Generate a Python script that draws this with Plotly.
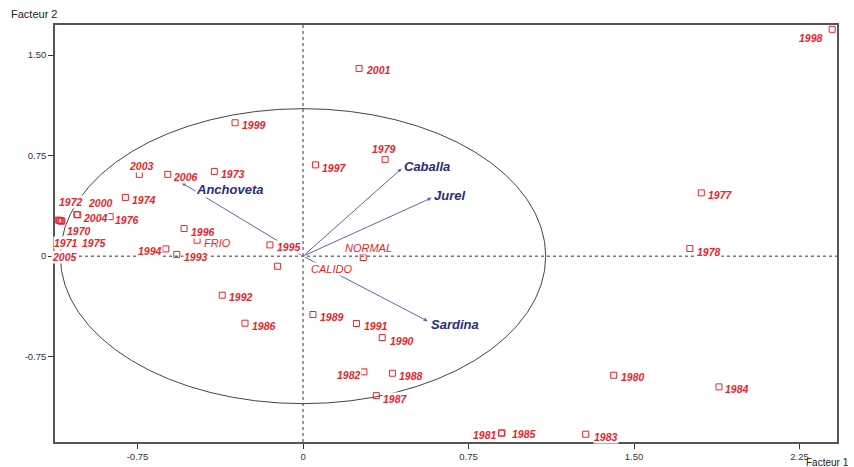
import plotly.graph_objects as go

# ---------------- data ----------------
years = ["1998", "2001", "1999", "1979", "1997", "2003", "2006", "1973", "1974",
         "1972", "1970", "1971", "1975", "2005", "2000", "2004", "1976", "1996",
         "FRIO", "1994", "1993", "1995", "CALIDO", "NORMAL", "1992", "1986",
         "1989", "1991", "1990", "1982", "1988", "1987", "1981", "1985", "1983",
         "1980", "1984", "1977", "1978"]
f1 = [2.398, 0.254, -0.308, 0.372, 0.057, -0.742, -0.613, -0.402, -0.805,
      -1.109, -1.093, -1.103, -1.096, -1.101, -1.025, -1.021, -0.874, -0.539,
      -0.480, -0.622, -0.572, -0.150, -0.115, 0.273, -0.366, -0.263,
      0.045, 0.242, 0.359, 0.276, 0.405, 0.332, 0.899, 0.901, 1.281,
      1.408, 1.885, 1.805, 1.753]
f2 = [1.692, 1.400, 0.995, 0.722, 0.681, 0.610, 0.610, 0.632, 0.438,
      0.269, 0.263, 0.265, 0.261, 0.266, 0.311, 0.308, 0.295, 0.206,
      0.119, 0.054, 0.013, 0.084, -0.075, -0.010, -0.291, -0.500,
      -0.435, -0.502, -0.607, -0.863, -0.873, -1.040, -1.320, -1.318, -1.328,
      -0.888, -0.975, 0.472, 0.057]

species = ["Caballa", "Jurel", "Sardina", "Anchoveta"]
sp_f1 = [0.447, 0.583, 0.565, -0.550]
sp_f2 = [0.654, 0.435, -0.485, 0.547]

circle_radius = 1.10

x_ticks = [-0.75, 0, 0.75, 1.50, 2.25]
x_ticktext = ["-0.75", "0", "0.75", "1.50", "2.25"]
y_ticks = [-0.75, 0, 0.75, 1.50]
y_ticktext = ["-0.75", "0", "0.75", "1.50"]

# ---------------- label placement (pixel offsets: dx right, dy down) ----------------
label_off = {
    "1998": (-21, 9), "2001": (19, 2), "1999": (19, 2), "1979": (-1, -10),
    "1997": (19, 3), "2003": (2, -8), "2006": (18, 3), "1973": (19, 3),
    "1974": (19, 3), "1972": (13, -18), "1970": (17, 10), "1971": (6, 22),
    "1975": (33, 22), "2005": (4, 37), "2000": (24, -11), "2004": (18, 3),
    "1976": (17, 3), "1996": (19, 3), "FRIO": (20, 3), "1994": (-16, 2),
    "1993": (19, 3), "1995": (19, 2), "CALIDO": (54, 3), "NORMAL": (5, -10),
    "1992": (19, 2), "1986": (19, 3), "1989": (19, 3), "1991": (20, 3),
    "1990": (20, 3), "1982": (-15, 3), "1988": (19, 3), "1987": (19, 3),
    "1981": (-16, 2), "1985": (22, 1), "1983": (20, 3), "1980": (19, 2),
    "1984": (18, 2), "1977": (19, 2), "1978": (19, 3),
}
sp_label_off = {"Caballa": (1, -2), "Jurel": (1, -2), "Sardina": (2, 3), "Anchoveta": (13, 7)}

RED = "#e8262b"
NAVY = "#2a2d7c"
VEC = "#6266aa"
FONT = "Liberation Sans, Arial, sans-serif"

fig = go.Figure()

# correlation circle
fig.add_shape(type="circle", xref="x", yref="y",
              x0=-circle_radius, x1=circle_radius, y0=-circle_radius, y1=circle_radius,
              line=dict(color="#444444", width=1))
# dashed axes through origin
fig.add_shape(type="line", xref="x", yref="paper", x0=0, x1=0, y0=0, y1=1,
              line=dict(color="#333333", width=1, dash="3px,3px"))
fig.add_shape(type="line", xref="paper", yref="y", x0=0, x1=1, y0=0, y1=0,
              line=dict(color="#333333", width=1, dash="3px,3px"))

fig.add_trace(go.Scatter(
    x=f1, y=f2, mode="markers", hoverinfo="text", text=years,
    marker=dict(symbol="square-open", size=6, color=RED, line=dict(width=1, color=RED)),
    showlegend=False))

annotations = []
# species vectors
for name, vx, vy in zip(species, sp_f1, sp_f2):
    annotations.append(dict(x=vx, y=vy, ax=0, ay=0, xref="x", yref="y",
                            axref="x", ayref="y", text="", showarrow=True,
                            arrowhead=2, arrowsize=0.8, arrowwidth=1,
                            arrowcolor=VEC, standoff=0, startstandoff=0))
# year / category labels
for name, px, py in zip(years, f1, f2):
    dx, dy = label_off[name]
    bold = name not in ("FRIO", "CALIDO", "NORMAL")
    txt = f"<b><i>{name}</i></b>" if bold else f"<i>{name}</i>"
    annotations.append(dict(x=px, y=py, xref="x", yref="y", text=txt,
                            showarrow=False, xshift=dx, yshift=-dy,
                            xanchor="center", yanchor="middle",
                            font=dict(family=FONT, size=10.5 if bold else 11, color=RED),
                            bgcolor="white", borderpad=0))
# species labels
for name, vx, vy in zip(species, sp_f1, sp_f2):
    dx, dy = sp_label_off[name]
    annotations.append(dict(x=vx, y=vy, xref="x", yref="y",
                            text=f"<b><i>{name}</i></b>", showarrow=False,
                            xshift=dx, yshift=-dy, xanchor="left", yanchor="middle",
                            font=dict(family=FONT, size=13, color=NAVY),
                            bgcolor="white", borderpad=0))
# axis titles
annotations.append(dict(x=(9 - 55) / 782, y=1, xref="paper", yref="paper",
                        text="Facteur 2", showarrow=False, xanchor="left",
                        yanchor="middle", yshift=11,
                        font=dict(family=FONT, size=11, color="#222222")))
annotations.append(dict(x=(851 - 55) / 782, y=0, xref="paper", yref="paper",
                        text="Facteur 1", showarrow=False, xanchor="right",
                        yanchor="middle", yshift=-20,
                        font=dict(family=FONT, size=10, color="#222222")))

fig.update_layout(
    width=854, height=467,
    margin=dict(l=55, r=17, t=25, b=25, pad=0),
    paper_bgcolor="white", plot_bgcolor="white",
    annotations=annotations,
    font=dict(family=FONT, size=9.5, color="#333333"),
    xaxis=dict(range=[-1.124, 2.42], tickvals=x_ticks, ticktext=x_ticktext,
               showgrid=False, zeroline=False, showline=True, mirror=True,
               linecolor="#555555", linewidth=1.5, ticks="outside", ticklen=5,
               tickcolor="#333333", tickfont=dict(size=9.5, color="#333333"),
               automargin=False),
    yaxis=dict(range=[-1.386, 1.724], tickvals=y_ticks, ticktext=y_ticktext,
               showgrid=False, zeroline=False, showline=True, mirror=True,
               linecolor="#555555", linewidth=1.5, ticks="outside", ticklen=5,
               tickcolor="#333333", tickfont=dict(size=9.5, color="#333333"),
               automargin=False),
)

fig.write_html("out.html", config={"displayModeBar": False},
               post_script="document.body.style.margin='0';document.body.style.overflow='hidden';")
